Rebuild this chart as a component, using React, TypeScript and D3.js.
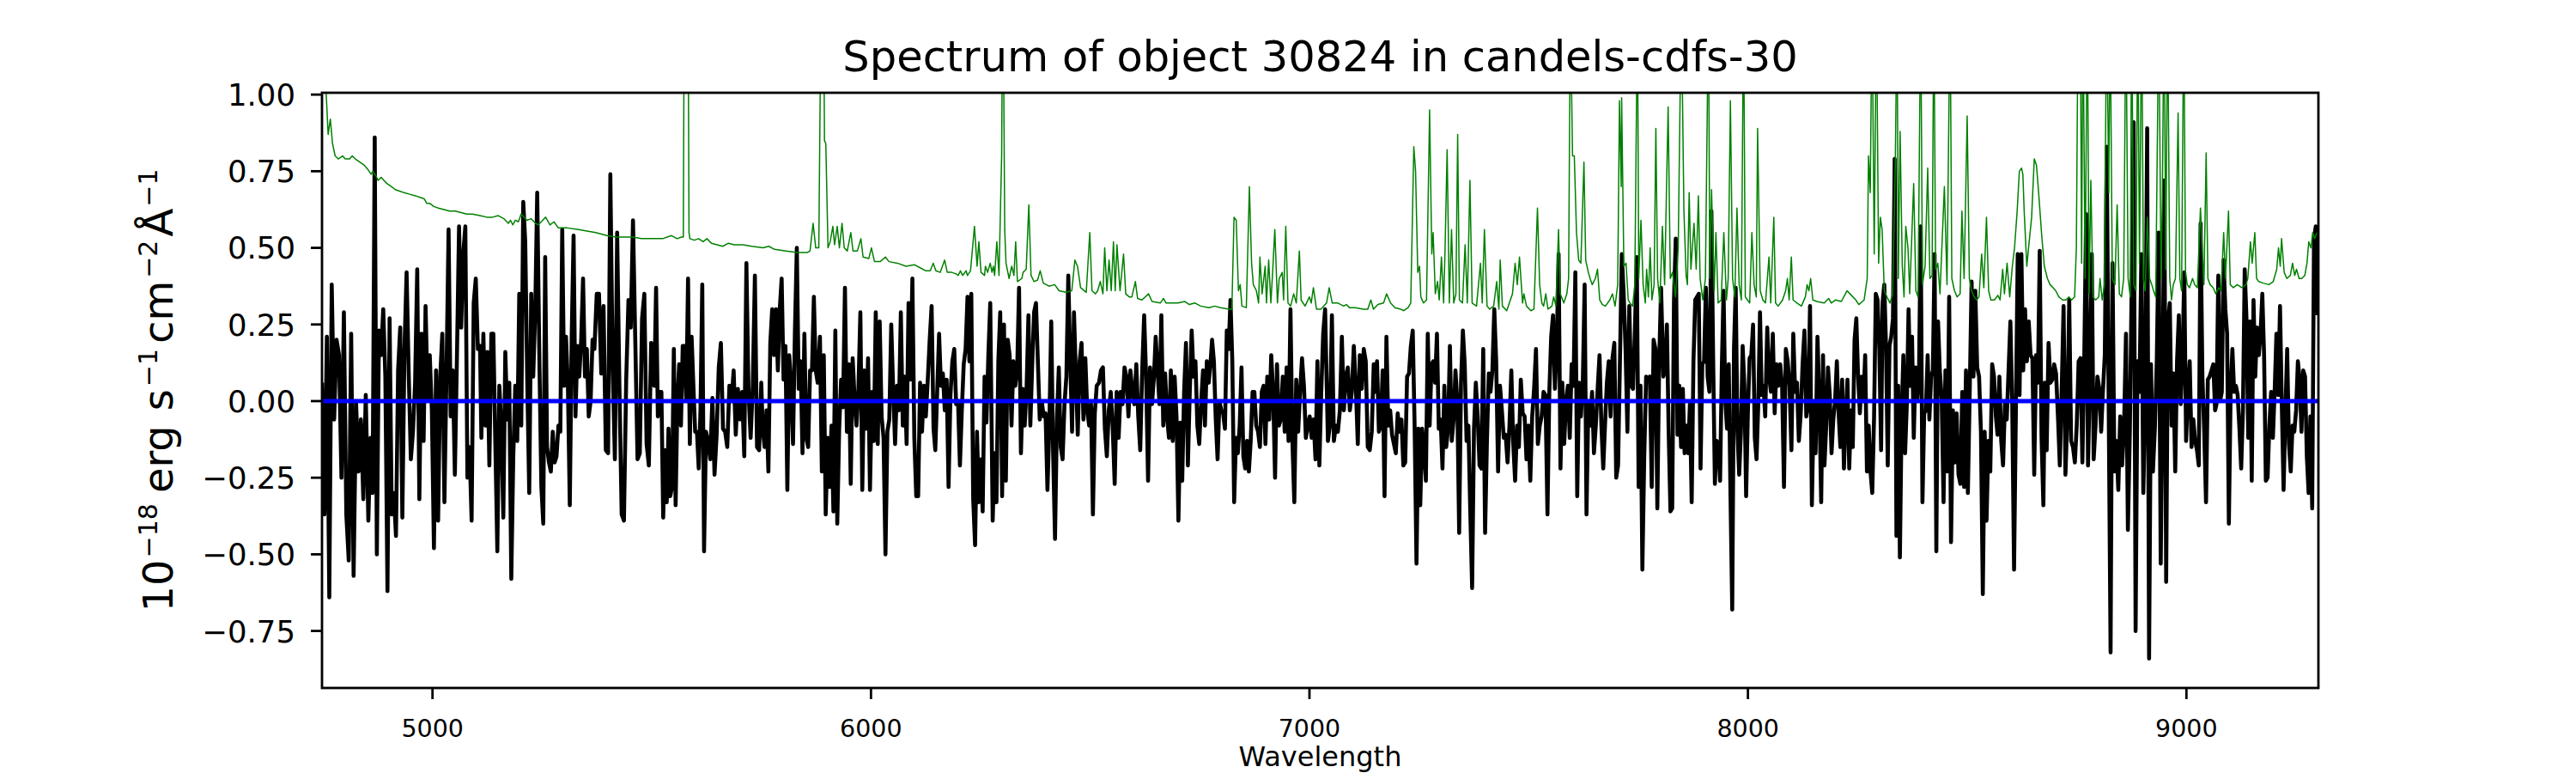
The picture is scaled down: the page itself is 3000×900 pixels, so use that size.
import React from "react";
import * as d3 from "d3";

// ---------- data ----------
const xTicks = [5000, 6000, 7000, 8000, 9000];
const yTicks = [-0.75, -0.5, -0.25, 0, 0.25, 0.5, 0.75, 1.0];
const wavelengthRange: [number, number] = [4748, 9301];
const fluxRange: [number, number] = [-0.936, 1.006];
const modelLevel = 0;

// Observed flux, stored in blocks of evenly spaced samples (start/end wavelength per block)
const blockStart = [
  4748.0, 4853.7, 4984.2, 5111.5, 5244.0, 5374.6,
  5501.8, 5623.8, 5753.1, 5883.6, 6015.5, 6146.7,
  6273.3, 6389.5, 6520.0, 6649.3, 6777.9, 6908.4,
  7042.1, 7149.8, 7282.3, 7412.9, 7542.8, 7674.0,
  7807.1, 7916.7, 8044.0, 8174.5, 8307.0, 8437.6,
  8569.3, 8677.0, 8809.5, 8941.4, 9068.7, 9201.2,
];
const blockEnd = [
  4847.8, 4979.7, 5108.3, 5238.8, 5369.3, 5498.6,
  5619.3, 5749.8, 5878.4, 6010.9, 6142.7, 6272.0,
  6384.9, 6514.8, 6645.4, 6774.6, 6903.8, 7035.7,
  7146.6, 7278.4, 7409.0, 7538.2, 7670.0, 7801.9,
  7912.1, 8039.4, 8171.3, 8303.7, 8433.6, 8565.5,
  8673.8, 8805.6, 8936.8, 9065.4, 9197.2, 9299.1,
];
const blockFlux: number[][] = [
  [0.06,-0.37,0.21,-0.64,0.38,-0.06,0.20,0.15,-0.25,0.29,-0.37,-0.52,0.22,-0.57,0.00,-0.23,-0.06,-0.32,0.02],
  [-0.39,-0.12,-0.30,0.86,-0.50,0.23,0.15,0.30,0.08,-0.62,0.27,-0.37,-0.30,-0.44,0.10,0.24,-0.38,0.17,0.42,0.09,-0.19,-0.10,0.06,0.43,-0.32,0.22,-0.13],
  [0.31,0.01,0.15,-0.03,-0.48,0.10,-0.39,0.08,0.22,-0.33,0.09,0.56,-0.05,0.10,-0.24,0.15,0.57,0.24,0.48,0.57,-0.25,-0.15,-0.39,0.32,0.40,0.17,0.18],
  [-0.12,0.22,-0.08,0.16,-0.21,0.22,0.22,-0.14,-0.49,0.05,-0.08,-0.38,0.16,-0.06,0.06,-0.58,-0.18,0.05,-0.13,0.35,-0.08,0.65,0.52,0.07,-0.30,0.35,0.08,0.29,0.68],
  [0.11,-0.28,-0.40,0.47,-0.15,-0.20,-0.23,-0.10,-0.20,-0.18,-0.08,-0.10,0.56,0.05,0.21,0.05,-0.34,0.21,0.54,-0.05,0.18,0.08,0.20,0.40,0.08,0.17,-0.05,0.00,0.20,0.17],
  [0.35,0.35,0.09,0.31,-0.16,-0.17,0.74,0.12,-0.19,0.55,0.05,-0.37,-0.39,0.07,0.33,0.24,0.59,0.20,-0.19,-0.17,0.27,0.35,-0.14,-0.21,0.19],
  [0.18,0.05,0.37,-0.05,0.03,0.03,-0.38,-0.16,-0.33,-0.09,-0.31,-0.28,0.17,-0.34,0.00,0.12,-0.08,0.18,0.18,0.00,0.40,-0.14,0.21,0.05,-0.10,-0.10,-0.22,-0.03,0.38,-0.49],
  [-0.10,-0.13,-0.19,0.01,-0.24,-0.11,0.11,0.19,-0.09,-0.10,-0.15,0.05,0.00,0.10,-0.11,0.04,-0.06,0.03,-0.18,0.45,0.03,-0.12,0.05,0.41,-0.15,-0.16,0.06],
  [-0.09,-0.15,-0.03,-0.23,0.19,0.30,0.15,0.30,0.10,0.30,0.40,0.07,0.18,-0.29,0.15,0.05,-0.14,0.23,0.50,0.04,0.13,-0.17,0.22,-0.12,-0.15,0.10,0.10,0.34,0.10,0.06],
  [0.21,-0.23,0.15,-0.37,-0.12,-0.28,-0.08,-0.36,0.23,-0.40,-0.09,0.07,-0.02,0.37,-0.10,0.12,-0.27,0.14,0.01,-0.08,0.04,0.29,-0.29,0.10,-0.09,0.14,-0.29,0.03,-0.13,0.29],
  [-0.14,0.26,-0.05,-0.12,-0.50,-0.10,-0.06,0.25,0.04,-0.14,0.05,-0.03,0.29,-0.08,0.08,-0.14,0.32,0.07,0.40,-0.12,-0.31,-0.31,0.06,-0.10,0.05,-0.05,0.07,0.20,0.31,-0.09],
  [-0.16,0.03,0.22,0.05,0.09,-0.03,0.07,-0.28,0.02,0.13,0.17,-0.01,0.00,-0.21,-0.03,0.12,0.17,0.34,0.13,0.35,-0.32,-0.47,-0.10,-0.33,-0.19,-0.36,0.08,-0.07,0.15,0.32],
  [0.15,-0.39,-0.17,-0.33,0.13,0.29,-0.31,0.25,-0.26,0.20,0.15,-0.08,0.13,0.05,0.10,0.37,-0.17,0.04,-0.08,0.04,0.28,-0.08,0.12,0.29,0.32,0.13,-0.06],
  [0.00,-0.05,-0.04,-0.29,-0.08,0.26,-0.17,-0.45,-0.06,0.11,-0.15,-0.19,-0.01,0.08,0.41,0.14,-0.10,0.29,0.09,-0.11,0.13,0.19,-0.06,0.14,-0.03,-0.08,-0.01,-0.37,-0.04,0.05],
  [0.06,0.10,0.11,-0.09,-0.18,-0.03,0.03,-0.09,-0.27,0.03,-0.12,0.03,-0.01,0.11,0.08,-0.05,0.10,0.03,-0.01,0.12,-0.05,-0.16,0.10,0.28,0.08,-0.26,0.11,-0.01,0.08],
  [0.21,0.10,-0.01,0.28,-0.08,0.09,-0.05,-0.12,0.10,-0.13,0.08,-0.05,-0.39,-0.07,-0.26,0.03,0.19,-0.21,0.03,0.23,0.08,0.13,-0.08,-0.14,0.00,0.10,-0.08,0.13,0.06,0.13],
  [0.20,0.13,-0.06,-0.19,0.00,-0.03,-0.04,-0.09,0.23,0.17,0.33,0.13,-0.33,-0.12,-0.17,-0.08,0.11,-0.18,-0.22,-0.13,-0.23,-0.13,0.03,0.03,-0.08,-0.10,-0.15,0.03,0.05,-0.14,0.08],
  [-0.06,0.15,0.03,-0.25,0.12,-0.08,-0.06,0.08,-0.10,0.11,-0.13,0.30,-0.13,-0.33,0.07,-0.10,0.03,0.14,0.05,-0.12,-0.08,-0.05,-0.12,-0.06,-0.19,0.13,-0.21,0.03,0.22,0.30],
  [-0.13,-0.08,0.28,-0.13,-0.08,-0.10,-0.03,0.21,-0.03,0.08,0.11,-0.03,0.03,0.18,0.05,-0.14,0.15,0.04,0.17,0.13,-0.15,-0.16,-0.10,0.12],
  [0.03,0.13,-0.10,-0.08,0.10,-0.31,0.21,-0.08,-0.03,-0.11,-0.14,-0.17,-0.04,-0.10,-0.06,-0.21,-0.20,0.08,0.09,0.18,0.23,-0.08,-0.53,-0.09,-0.34,-0.09,-0.16,-0.26,0.22,-0.08,0.12],
  [0.13,0.06,0.22,-0.09,-0.06,-0.22,0.05,-0.15,-0.09,0.18,-0.13,-0.06,0.10,0.00,-0.43,0.06,0.23,0.12,-0.13,-0.08,-0.36,-0.61,-0.09,0.06,-0.05,-0.21,-0.22,0.17,-0.43,-0.13,0.09],
  [0.03,0.10,0.30,0.13,-0.23,0.05,-0.03,-0.12,-0.11,-0.20,-0.08,0.10,-0.14,-0.26,-0.08,-0.15,0.07,-0.04,-0.05,-0.19,-0.08,-0.26,-0.05,0.04,0.17,-0.14,-0.08,-0.05,0.03,0.02],
  [-0.37,0.03,0.21,0.28,0.04,0.18,0.48,-0.22,0.06,-0.14,0.00,0.05,-0.12,0.12,0.05,0.42,-0.31,0.06,-0.05,0.06,0.38,-0.37,0.00,-0.08,0.03,-0.17,-0.08,0.04,0.15,-0.08,-0.22],
  [-0.08,0.06,0.13,-0.05,0.14,0.19,-0.25,-0.21,0.13,0.48,0.35,0.17,-0.10,0.31,0.05,0.04,0.23,0.47,-0.28,0.05,-0.55,-0.18,0.08,0.07,0.08,-0.28,0.20,0.17,-0.35,0.13,0.37],
  [0.08,0.10,0.25,-0.10,-0.36,-0.35,0.33,0.53,-0.11,0.05,-0.15,0.04,-0.17,-0.08,-0.17,-0.01,-0.33,0.13,0.33,0.34,0.35,-0.22,0.12,0.13,0.37,0.08,0.03],
  [0.62,0.14,-0.27,-0.13,-0.14,-0.26,0.11,0.36,0.00,-0.09,0.12,-0.31,-0.68,0.17,0.37,-0.10,-0.24,-0.10,0.18,0.05,-0.31,-0.04,0.14,0.15,0.25,-0.12,-0.19,-0.01,0.29,0.02,0.05,-0.05],
  [0.24,0.08,0.03,0.22,-0.04,0.12,0.05,0.12,0.05,-0.28,0.17,0.13,0.05,-0.16,0.22,0.03,0.06,-0.13,-0.04,0.12,0.23,-0.05,-0.01,0.31,-0.34,-0.01,-0.17,0.21,0.01,-0.33,0.15],
  [-0.21,-0.08,0.11,0.02,-0.17,-0.06,0.00,0.13,-0.04,-0.15,0.07,-0.22,-0.05,0.07,-0.22,-0.03,-0.15,0.20,0.27,0.08,-0.04,0.08,0.00,0.15,-0.23,-0.08,-0.23,-0.30,-0.06,0.35,0.33,0.17,-0.16],
  [0.32,0.38,0.18,-0.21,0.18,0.21,0.27,0.79,-0.44,0.05,-0.51,-0.05,0.15,-0.17,-0.01,0.30,0.05,0.21,-0.12,0.11,0.00,0.08,0.57,-0.33,-0.04,-0.03,0.15,-0.06,0.08,0.10,0.48,-0.49,0.26],
  [0.10,0.01,-0.33,0.10,-0.23,0.34,-0.46,-0.03,-0.20,-0.04,-0.24,-0.27,0.03,-0.28,0.10,-0.30,0.03,0.39,0.08,0.36,0.11,0.08,-0.10,-0.63,-0.10,-0.39,-0.13,-0.23,0.12,0.08,-0.05],
  [-0.11,0.08,-0.13,-0.21,-0.01,-0.06,0.10,0.26,-0.01,-0.55,-0.03,0.48,0.02,0.48,0.10,0.30,0.13,0.26,0.15,0.14,-0.24,0.15,0.06,0.49,-0.12,-0.34],
  [0.06,-0.16,0.19,0.06,0.07,0.12,0.09,-0.05,-0.21,0.04,0.31,-0.24,-0.05,0.33,-0.13,-0.15,-0.20,-0.08,0.13,0.14,-0.20,0.14,0.61,-0.21,0.08,0.48,-0.19,-0.08,0.08,0.04,-0.10],
  [0.03,0.15,0.83,0.00,-0.82,0.45,-0.23,-0.13,-0.29,-0.05,-0.21,-0.08,0.22,-0.42,-0.10,0.40,0.91,-0.75,0.13,0.03,0.48,-0.30,0.00,0.89,-0.84,0.12,-0.23,-0.09,0.13,0.55],
  [-0.53,0.03,0.72,-0.59,0.26,0.32,-0.08,0.09,-0.23,0.13,0.28,-0.01,0.13,0.42,-0.13,0.03,0.13,-0.15,-0.06,-0.13,-0.16,-0.21,0.58,0.08,-0.10,-0.33,0.07,0.08,0.10,0.12,-0.03],
  [-0.01,0.41,0.00,0.03,0.46,0.30,0.22,-0.40,0.03,0.17,0.03,0.05,0.02,-0.09,-0.22,-0.03,0.43,0.27,-0.12,0.26,-0.26,0.33,0.08,0.24,0.15,0.22,0.35,0.15,-0.26,-0.25,-0.08,0.03,-0.12],
  [0.03,0.22,0.02,0.31,-0.01,-0.29,-0.04,0.17,-0.14,-0.23,-0.08,-0.10,-0.03,0.13,0.07,-0.10,0.10,0.08,-0.18,-0.30,-0.05,-0.35,0.53,0.57,0.28],
];

// Noise / sky spectrum: [wavelength, flux]
const skyNoise: [number, number][] = [
  [4748,1.2],[4756,1.05],[4762,0.87],[4767,0.92],[4772,0.84],[4778,0.80],[4785,0.79],[4795,0.80],[4801,0.79],[4811,0.79],[4817,0.80],[4824,0.79],[4834,0.78],[4844,0.77],[4853,0.755],[4860,0.74],[4864,0.75],[4871,0.735],[4876,0.72],[4883,0.73],[4889,0.72],[4896,0.71],[4906,0.70],[4915,0.69],[4925,0.685],[4935,0.68],[4948,0.675],[4961,0.67],[4971,0.665],[4981,0.66],[4987,0.645],[4994,0.645],[5003,0.635],[5013,0.63],[5026,0.625],[5039,0.62],[5052,0.62],[5065,0.615],[5078,0.61],[5091,0.61],[5108,0.605],[5124,0.60],[5137,0.60],[5150,0.605],[5163,0.595],[5173,0.58],[5178,0.59],[5183,0.575],[5189,0.59],[5196,0.585],[5202,0.61],[5209,0.60],[5215,0.59],[5225,0.595],[5235,0.58],[5241,0.575],[5248,0.585],[5258,0.60],[5268,0.575],[5277,0.585],[5287,0.565],[5307,0.565],[5333,0.56],[5352,0.555],[5372,0.55],[5398,0.54],[5418,0.535],[5437,0.535],[5457,0.535],[5476,0.53],
  [5502,0.53],[5525,0.53],[5545,0.54],[5558,0.53],[5568,0.535],[5572,0.535],[5574,1.3],[5579,1.3],[5583,1.3],[5585,0.55],[5587,0.53],[5597,0.525],[5607,0.53],[5617,0.52],[5626,0.53],[5636,0.515],[5649,0.51],[5662,0.505],[5675,0.515],[5688,0.51],[5708,0.51],[5728,0.505],[5754,0.50],[5767,0.505],[5780,0.495],[5806,0.49],[5832,0.485],[5855,0.485],[5861,0.49],[5868,0.58],[5874,0.50],[5881,0.50],[5886,1.3],[5892,1.3],[5894,0.85],[5897,0.84],[5902,0.50],[5907,0.52],[5913,0.57],[5917,0.51],[5923,0.57],[5928,0.50],[5934,0.58],[5939,0.50],[5946,0.49],[5954,0.55],[5959,0.49],[5969,0.49],[5977,0.53],[5982,0.47],[5995,0.465],[6001,0.50],[6008,0.455],[6021,0.455],[6033,0.47],[6041,0.455],[6060,0.45],[6080,0.44],[6099,0.445],[6112,0.435],[6125,0.425],[6135,0.425],[6142,0.45],[6148,0.425],[6158,0.42],[6168,0.46],[6174,0.42],[6184,0.42],[6194,0.415],[6199,0.41],[6204,0.425],[6209,0.41],[6217,0.425],[6220,0.41],[6227,0.425],[6236,0.57],[6242,0.44],[6246,0.52],[6251,0.42],[6259,0.41],
  [6261,0.44],[6266,0.42],[6272,0.45],[6276,0.42],[6279,0.44],[6282,0.41],[6287,0.52],[6292,0.41],[6298,0.8],[6300,1.3],[6303,1.0],[6305,0.56],[6308,0.45],[6315,0.40],[6321,0.44],[6326,0.41],[6330,0.52],[6334,0.39],[6344,0.40],[6347,0.42],[6354,0.43],[6360,0.64],[6365,0.41],[6372,0.39],[6380,0.395],[6386,0.425],[6393,0.385],[6406,0.375],[6419,0.38],[6429,0.36],[6445,0.355],[6458,0.36],[6465,0.46],[6471,0.44],[6478,0.37],[6491,0.355],[6499,0.55],[6504,0.36],[6512,0.35],[6517,0.36],[6523,0.39],[6529,0.35],[6533,0.50],[6538,0.36],[6543,0.46],[6548,0.36],[6553,0.52],[6557,0.36],[6561,0.51],[6568,0.36],[6576,0.48],[6581,0.35],[6589,0.34],[6595,0.34],[6603,0.39],[6608,0.335],[6618,0.33],[6633,0.35],[6641,0.325],[6660,0.32],[6667,0.335],[6673,0.32],[6700,0.32],[6716,0.325],[6726,0.315],[6739,0.32],[6752,0.31],[6771,0.305],[6784,0.31],[6797,0.305],[6817,0.30],[6823,0.30],[6828,0.60],[6833,0.59],[6838,0.36],[6842,0.38],[6846,0.31],[6856,0.305],[6863,0.70],[6868,0.45],[6872,0.38],[6879,0.36],[6884,0.32],[6887,0.47],[6892,0.35],[6899,0.44],[6902,0.32],[6907,0.46],[6912,0.32],[6916,0.42],[6921,0.56],[6927,0.32],[6931,0.40],[6938,0.42],[6941,0.33],[6946,0.57],[6951,0.32],[6957,0.31],[6964,0.35],[6970,0.32],[6977,0.49],[6981,0.33],[6990,0.31],[7000,0.34],[7004,0.32],[7009,0.37],[7016,0.30],[7026,0.30],
  [7039,0.32],[7045,0.37],[7052,0.32],[7065,0.32],[7078,0.31],[7084,0.315],[7091,0.305],[7104,0.305],[7123,0.30],[7133,0.30],[7140,0.33],[7146,0.30],[7156,0.315],[7169,0.32],[7176,0.35],[7185,0.32],[7195,0.305],[7208,0.30],[7215,0.295],[7225,0.305],[7231,0.32],[7238,0.83],[7242,0.75],[7247,0.42],[7251,0.44],[7254,0.34],[7260,0.32],[7267,0.33],[7274,0.95],[7279,0.48],[7282,0.55],[7287,0.35],[7292,0.39],[7296,0.33],[7301,0.47],[7306,0.32],[7309,0.48],[7314,0.82],[7319,0.32],[7324,0.56],[7329,0.32],[7334,0.35],[7338,0.87],[7342,0.33],[7349,0.32],[7355,0.51],[7360,0.32],[7366,0.72],[7371,0.32],[7381,0.31],[7390,0.45],[7394,0.32],[7399,0.56],[7405,0.31],[7411,0.30],[7420,0.31],[7427,0.39],[7432,0.30],[7435,0.46],[7440,0.31],[7450,0.295],[7463,0.35],[7469,0.45],[7474,0.38],[7479,0.47],[7486,0.32],[7489,0.35],[7495,0.31],[7505,0.295],[7512,0.30],[7520,0.63],[7525,0.38],[7530,0.32],[7534,0.31],[7539,0.35],[7544,0.30],[7553,0.31],[7557,0.34],[7562,0.31],[7568,0.56],[7572,0.35],[7580,0.32],[7587,0.35],[7591,0.40],[7595,1.3],[7600,0.80],[7604,0.80],[7609,0.55],[7614,0.46],[7619,0.45],[7626,0.78],[7630,0.46],[7636,0.42],[7640,0.40],[7645,0.38],[7652,0.40],[7657,0.43],[7662,0.33],[7668,0.315],[7675,0.31],[7685,0.33],[7691,0.35],[7697,0.31],[7703,0.38],[7707,0.98],[7711,0.7],[7712,0.99],[7717,0.44],[7722,0.45],[7727,0.33],[7731,0.32],[7737,0.31],[7742,0.38],[7748,1.3],[7751,0.40],[7756,0.59],[7761,0.38],[7766,0.32],[7769,0.43],[7773,0.34],[7777,0.50],[7781,0.33],
  [7786,0.38],[7790,0.89],[7794,0.40],[7799,0.32],[7805,0.57],[7810,0.38],[7818,0.96],[7823,0.40],[7828,0.42],[7835,0.34],[7841,0.50],[7848,1.3],[7854,0.62],[7859,0.41],[7862,0.38],[7866,0.68],[7870,0.43],[7877,0.58],[7882,0.43],[7887,0.67],[7891,0.40],[7897,0.33],[7903,0.40],[7910,1.3],[7913,0.40],[7917,0.69],[7923,0.36],[7927,0.55],[7932,0.32],[7939,0.33],[7945,0.55],[7951,0.33],[7955,0.40],[7960,0.98],[7965,0.40],[7970,0.34],[7975,0.63],[7980,0.38],[7985,0.33],[7990,1.3],[7994,0.34],[8004,0.32],[8009,0.55],[8014,0.38],[8019,0.34],[8022,0.89],[8028,0.36],[8034,0.33],[8040,0.32],[8048,0.47],[8052,0.32],[8059,0.60],[8063,0.32],[8069,0.31],[8079,0.33],[8086,0.36],[8090,0.40],[8094,0.33],[8099,0.47],[8103,0.33],[8112,0.32],[8122,0.31],[8131,0.34],[8135,0.38],[8139,0.36],[8143,0.40],[8148,0.33],[8157,0.325],[8174,0.32],[8184,0.335],[8190,0.32],[8200,0.33],[8213,0.325],[8226,0.36],[8236,0.345],[8246,0.33],[8253,0.315],[8265,0.33],[8272,0.40],[8275,0.80],[8279,0.68],[8283,1.3],[8288,0.48],[8293,1.3],[8298,0.45],[8302,0.60],[8306,0.56],[8311,0.36],[8317,0.34],[8324,0.32],[8330,0.35],[8336,0.76],[8340,1.3],[8343,0.40],[8347,0.88],[8352,0.44],[8356,0.34],[8360,0.57],[8365,0.50],[8369,0.35],[8378,0.71],[8383,0.36],[8388,0.34],[8394,1.3],[8398,0.38],[8404,0.44],[8410,0.76],[8415,0.40],[8420,0.41],[8424,1.3],[8428,0.43],[8433,0.45],[8438,0.35],[8448,0.70],[8454,0.38],[8461,1.3],[8465,0.40],[8471,0.36],[8477,0.34],[8484,0.35],[8488,0.62],[8493,0.40],[8500,0.93],[8505,0.40],[8510,0.36],[8516,0.34],[8522,0.33],[8527,0.34],[8533,0.48],[8538,0.37],[8544,0.60],[8549,0.36],[8554,0.33],[8562,0.33],
  [8570,0.345],[8575,0.33],[8581,0.43],[8585,0.35],[8591,0.45],[8597,0.34],[8603,0.44],[8608,0.50],[8614,0.62],[8619,0.75],[8624,0.76],[8627,0.74],[8630,0.62],[8636,0.44],[8640,0.50],[8647,0.60],[8653,0.79],[8658,0.77],[8663,0.68],[8670,0.54],[8676,0.44],[8683,0.40],[8689,0.38],[8696,0.37],[8702,0.36],[8709,0.34],[8718,0.33],[8725,0.33],[8732,0.34],[8738,0.33],[8745,0.34],[8749,0.5],[8753,1.3],[8758,1.3],[8761,0.45],[8764,1.3],[8769,0.40],[8774,1.3],[8778,0.35],[8782,0.72],[8787,0.34],[8793,0.33],[8800,0.34],[8803,0.40],[8808,0.33],[8813,0.38],[8818,1.3],[8823,0.68],[8826,1.3],[8831,0.40],[8837,0.38],[8842,0.64],[8847,0.35],[8852,0.34],[8857,0.40],[8862,1.3],[8867,0.40],[8872,0.34],[8875,1.3],[8880,0.38],[8885,0.36],[8889,1.3],[8893,0.45],[8898,1.3],[8902,0.40],[8906,0.36],[8911,0.60],[8916,0.40],[8921,0.38],[8925,0.36],[8930,0.34],[8937,1.3],[8942,0.40],[8945,0.65],[8949,1.3],[8953,0.43],[8957,1.3],[8962,0.40],[8966,0.33],[8970,0.38],[8975,0.40],[8981,0.94],[8985,0.40],[8989,0.36],[8994,1.3],[8998,0.42],[9002,0.38],[9007,0.37],[9014,0.40],[9019,0.38],[9025,0.37],[9032,0.63],[9036,0.50],[9040,0.38],[9045,0.81],[9049,0.40],[9054,0.38],[9061,0.37],[9067,0.35],[9074,0.37],[9079,0.36],[9085,0.55],[9089,0.40],[9096,0.62],[9100,0.38],[9107,0.37],[9116,0.38],[9126,0.37],[9136,0.38],[9140,0.40],[9146,0.52],[9150,0.45],[9156,0.55],[9160,0.40],[9165,0.39],[9175,0.385],[9188,0.38],[9198,0.39],[9206,0.43],[9210,0.50],[9214,0.44],[9217,0.53],[9223,0.42],[9229,0.40],[9237,0.41],[9242,0.45],[9247,0.41],[9251,0.43],[9257,0.40],[9263,0.40],[9270,0.41],[9275,0.45],[9279,0.52],[9284,0.50],[9288,0.55],[9292,0.53],[9298,0.55],
];

const titleText = "Spectrum of object 30824 in candels-cdfs-30";
const xLabelText = "Wavelength";

// ---------- layout ----------
const W = 3000;
const H = 900;
const plotLeft = 375;
const plotRight = 2700;
const plotTop = 108;
const plotBottom = 801;
const FONT = "'DejaVu Sans', 'Liberation Sans', sans-serif";

export default function App() {
  const x = d3.scaleLinear().domain(wavelengthRange).range([plotLeft, plotRight]);
  const y = d3.scaleLinear().domain(fluxRange).range([plotBottom, plotTop]);

  const fluxPoints: [number, number][] = blockFlux.flatMap((vals, b) => {
    const a = blockStart[b];
    const e = blockEnd[b];
    return vals.map((v, j) => [a + ((e - a) * j) / Math.max(1, vals.length - 1), v] as [number, number]);
  });

  const line = d3
    .line<[number, number]>()
    .x((d) => x(d[0]))
    .y((d) => y(d[1]));

  const fmtY = d3.format(".2f");

  const supSize = 30;
  const supShift = 18;

  return (
    <svg
      width={W}
      height={H}
      viewBox={`0 0 ${W} ${H}`}
      style={{ position: "absolute", left: 0, top: 0, background: "#fff" }}
      fontFamily={FONT}
    >
      <rect x={0} y={0} width={W} height={H} fill="#ffffff" />
      <defs>
        <clipPath id="plotClip">
          <rect x={plotLeft} y={plotTop} width={plotRight - plotLeft} height={plotBottom - plotTop} />
        </clipPath>
      </defs>

      <g clipPath="url(#plotClip)">
        <path d={line(fluxPoints) || ""} fill="none" stroke="#000000" strokeWidth={4.6} strokeLinejoin="round" />
        <path d={line(skyNoise) || ""} fill="none" stroke="#008000" strokeWidth={1.5} strokeLinejoin="round" />
        <path
          d={line([[wavelengthRange[0], modelLevel], [wavelengthRange[1], modelLevel]]) || ""}
          fill="none"
          stroke="#0000ff"
          strokeWidth={5}
        />
      </g>

      {/* frame */}
      <rect
        x={plotLeft}
        y={plotTop}
        width={plotRight - plotLeft}
        height={plotBottom - plotTop}
        fill="none"
        stroke="#000"
        strokeWidth={2.8}
      />

      {/* x ticks */}
      {xTicks.map((t) => (
        <g key={`xt${t}`}>
          <line x1={x(t)} x2={x(t)} y1={plotBottom} y2={plotBottom + 13} stroke="#000" strokeWidth={2.8} />
          <text x={x(t)} y={858} fontSize={28.5} textAnchor="middle" fill="#000">
            {String(t)}
          </text>
        </g>
      ))}

      {/* y ticks */}
      {yTicks.map((t) => (
        <g key={`yt${t}`}>
          <line x1={plotLeft - 13} x2={plotLeft} y1={y(t)} y2={y(t)} stroke="#000" strokeWidth={2.8} />
          <text x={344} y={y(t) + 12.9} fontSize={35.5} textAnchor="end" fill="#000">
            {fmtY(t)}
          </text>
        </g>
      ))}

      {/* title */}
      <text x={(plotLeft + plotRight) / 2} y={83} fontSize={49.5} textAnchor="middle" fill="#000">
        {titleText}
      </text>

      {/* x label */}
      <text x={(plotLeft + plotRight) / 2} y={892} fontSize={32} textAnchor="middle" fill="#000">
        {xLabelText}
      </text>

      {/* y label */}
      <text
        transform={`translate(201, ${(plotTop + plotBottom) / 2}) rotate(-90)`}
        fontSize={48}
        textAnchor="middle"
        fill="#000"
      >
        <tspan>10</tspan>
        <tspan dy={-supShift} dx={2} fontSize={supSize}>−18</tspan>
        <tspan dy={supShift} dx={12}>erg</tspan>
        <tspan dx={17}>s</tspan>
        <tspan dy={-supShift} dx={3} fontSize={supSize}>−1</tspan>
        <tspan dy={supShift} dx={6}>cm</tspan>
        <tspan dy={-supShift} dx={3} fontSize={supSize}>−2</tspan>
        <tspan dy={supShift} dx={4}>Å</tspan>
        <tspan dy={-supShift} dx={2} fontSize={supSize}>−1</tspan>
      </text>
    </svg>
  );
}
